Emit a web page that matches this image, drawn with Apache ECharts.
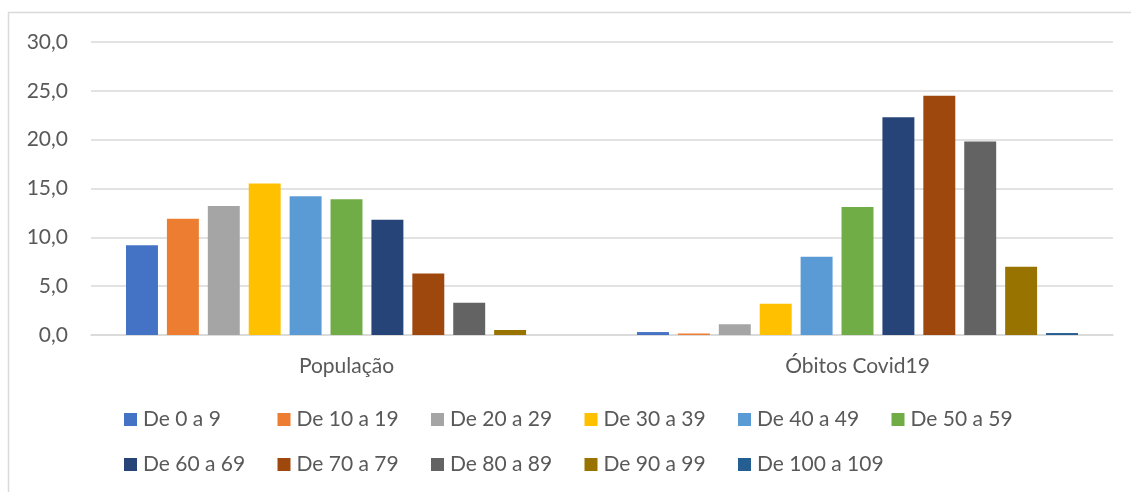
<!DOCTYPE html>
<html><head><meta charset="utf-8">
<script src="https://cdn.jsdelivr.net/npm/echarts@6/dist/echarts.min.js"></script>
<style>html,body{margin:0;padding:0;background:#fff}#c{width:1131px;height:492px}</style>
</head><body><div id="c"></div>
<script>
const categories = ['População', 'Óbitos Covid19'];
const seriesNames = ['De 0 a 9','De 10 a 19','De 20 a 29','De 30 a 39','De 40 a 49','De 50 a 59','De 60 a 69','De 70 a 79','De 80 a 89','De 90 a 99','De 100 a 109'];
const populacao = [9.2, 11.9, 13.2, 15.5, 14.2, 13.9, 11.8, 6.3, 3.3, 0.5, 0.0];
const obitos = [0.3, 0.15, 1.1, 3.2, 8.0, 13.1, 22.3, 24.5, 19.8, 7.0, 0.2];
const colors = ['#4472C4','#ED7D31','#A5A5A5','#FFC000','#5B9BD5','#70AD47','#264478','#9E480E','#636363','#997300','#255E91'];
const font = 'Lato, "Open Sans", sans-serif';
const textColor = '#595959';
const chart = echarts.init(document.getElementById('c'));
const legends = seriesNames.map((n, i) => {
  const row = i < 6 ? 0 : 1;
  const col = row === 0 ? i : i - 6;
  return {
    left: 124 + col * 153.5, top: row === 0 ? 409 : 454, padding: 0,
    icon: 'rect', itemWidth: 13, itemHeight: 13, itemGap: 0,
    data: [n], selectedMode: false,
    textStyle: {fontFamily: font, fontSize: 21, color: textColor, padding: [0, 0, 0, 1]}
  };
});
chart.setOption({
  animation: false,
  color: colors,
  graphic: [{type: 'rect', silent: true, shape: {x: 8.5, y: 12.5, width: 1140, height: 490}, style: {fill: 'none', stroke: '#d9d9d9', lineWidth: 1.5}}],
  grid: {left: 91, right: 18, top: 42, bottom: 157},
  legend: legends,
  xAxis: {
    type: 'category', data: categories,
    axisLine: {lineStyle: {color: '#d9d9d9', width: 1.5}},
    axisTick: {show: false},
    axisLabel: {fontFamily: font, fontSize: 21, color: textColor, margin: 21}
  },
  yAxis: {
    type: 'value', min: 0, max: 30, interval: 5,
    axisLine: {show: false}, axisTick: {show: false},
    splitLine: {lineStyle: {color: '#d9d9d9', width: 1.5}},
    axisLabel: {fontFamily: font, fontSize: 21, color: textColor, margin: 23,
      formatter: v => v.toFixed(1).replace('.', ',')}
  },
  series: seriesNames.map((n, i) => ({
    name: n, type: 'bar', data: [populacao[i], obitos[i]],
    barGap: '28%', barCategoryGap: '13.7%'
  }))
});
</script></body></html>
